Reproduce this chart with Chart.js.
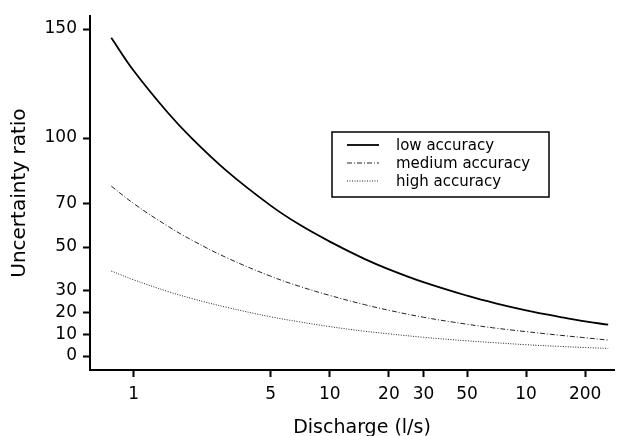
<!DOCTYPE html>
<html>
<head>
<meta charset="utf-8">
<title>Uncertainty ratio</title>
<script src="https://cdn.jsdelivr.net/npm/chart.js@4.4.1/dist/chart.umd.min.js"></script>
<style>
  html, body { margin: 0; padding: 0; background: #fff; }
  #wrap { width: 619px; height: 436px; }
</style>
</head>
<body>
<div id="wrap"><canvas id="myChart" width="619" height="436"></canvas></div>
<script>
// discharge values (l/s)
const discharge = [0.77, 1, 1.5, 2, 3, 5, 7, 10, 15, 20, 30, 50, 70, 100, 150, 200, 262];
const lowAcc = [146, 131, 111.5, 99.5, 84.7, 69, 60.3, 52.5, 44.6, 39.8, 33.9, 27.7, 24.2, 21, 17.9, 15.9, 14.4];
const mediumAcc = [78, 70, 59.5, 53, 45, 36.6, 32, 27.8, 23.6, 21, 17.8, 14.6, 12.8, 11.2, 9.5, 8.4, 7.3];
const highAcc = [39, 35, 29.6, 26.3, 22.3, 18, 15.7, 13.5, 11.4, 10.2, 8.6, 7, 6.1, 5.2, 4.4, 3.9, 3.5];

const seriesNames = ["low accuracy", "medium accuracy", "high accuracy"];

const xTicks = [1, 5, 10, 20, 30, 50, 100, 200];
// the original figure prints "10" under the 100 tick
const xTickLabels = ["1", "5", "10", "20", "30", "50", "10", "200"];
const yTicks = [0, 10, 20, 30, 50, 70, 100, 150];

const xTitle = "Discharge (l/s)";
const yTitle = "Uncertainty ratio";

const fontFamily = "'DejaVu Sans', sans-serif";

function toPoints(vals) {
  let pts = [];
  for (let i = 0; i < discharge.length; i++) {
    pts.push({ x: discharge[i], y: vals[i] });
  }
  return pts;
}

// legend drawn inside the plot, boxed like the original, plus the x title
const boxLegend = {
  id: "boxLegend",
  afterDatasetsDraw(chart) {
    const ctx = chart.ctx;
    const x0 = 332, y0 = 132, w = 217, h = 65;
    ctx.save();
    ctx.fillStyle = "#fff";
    ctx.fillRect(x0, y0, w, h);
    ctx.strokeStyle = "#000";
    ctx.lineWidth = 1.5;
    ctx.strokeRect(x0, y0, w, h);
    ctx.font = "15px " + fontFamily;
    ctx.textBaseline = "middle";
    const rows = [145, 163, 181];
    chart.data.datasets.forEach((ds, i) => {
      ctx.beginPath();
      ctx.setLineDash(ds.borderDash || []);
      ctx.strokeStyle = ds.borderColor;
      ctx.lineWidth = ds.borderWidth;
      ctx.moveTo(347, rows[i]);
      ctx.lineTo(379, rows[i]);
      ctx.stroke();
      ctx.setLineDash([]);
      ctx.fillStyle = "#000";
      ctx.fillText(ds.label, 396, rows[i] + 1);
    });

    // x axis title sits a little right of the axis centre in the original
    ctx.font = "19px " + fontFamily;
    ctx.textAlign = "center";
    ctx.textBaseline = "alphabetic";
    ctx.fillText(xTitle, 362, 433);
    ctx.restore();
  },
};

const config = {
  type: "line",
  data: {
    datasets: [
      {
        label: seriesNames[0],
        data: toPoints(lowAcc),
        borderColor: "#000",
        borderWidth: 1.8,
        pointRadius: 0,
        tension: 0.4,
      },
      {
        label: seriesNames[1],
        data: toPoints(mediumAcc),
        borderColor: "#222",
        borderWidth: 1,
        borderDash: [5, 2, 1, 2],
        pointRadius: 0,
        tension: 0.4,
      },
      {
        label: seriesNames[2],
        data: toPoints(highAcc),
        borderColor: "#222",
        borderWidth: 1,
        borderDash: [1, 1.5],
        pointRadius: 0,
        tension: 0.4,
      },
    ],
  },
  options: {
    responsive: false,
    animation: false,
    layout: { padding: { top: 15, right: 5, left: 0, bottom: 0 } },
    plugins: {
      legend: { display: false },
      tooltip: { enabled: false },
    },
    scales: {
      x: {
        type: "logarithmic",
        min: 0.607,
        max: 280.5,
        afterFit: (scale) => { scale.height = 66; },
        afterBuildTicks: (scale) => {
          scale.ticks = xTicks.map((v) => ({ value: v }));
        },
        border: { display: true, color: "#000", width: 2 },
        grid: {
          display: true,
          drawOnChartArea: false,
          drawTicks: true,
          tickLength: 7,
          tickColor: "#000",
          tickWidth: 2,
        },
        ticks: {
          autoSkip: false,
          maxRotation: 0,
          padding: 7,
          color: "#000",
          font: { family: fontFamily, size: 17 },
          callback: (value, index) => xTickLabels[index],
        },
        title: { display: false },
      },
      y: {
        type: "linear",
        min: -6.4,
        max: 155.9,
        afterFit: (scale) => { scale.width = 90; },
        afterBuildTicks: (scale) => {
          scale.ticks = yTicks.map((v) => ({ value: v }));
        },
        border: { display: true, color: "#000", width: 2 },
        grid: {
          display: true,
          drawOnChartArea: false,
          drawTicks: true,
          tickLength: 7,
          tickColor: "#000",
          tickWidth: 2,
        },
        ticks: {
          autoSkip: false,
          padding: 6,
          color: "#000",
          font: { family: fontFamily, size: 17 },
        },
        title: {
          display: true,
          text: yTitle,
          color: "#000",
          font: { family: fontFamily, size: 20 },
          padding: { top: 8, bottom: 0 },
        },
      },
    },
  },
  plugins: [boxLegend],
};

const myChart = new Chart(document.getElementById("myChart"), config);
</script>
</body>
</html>
